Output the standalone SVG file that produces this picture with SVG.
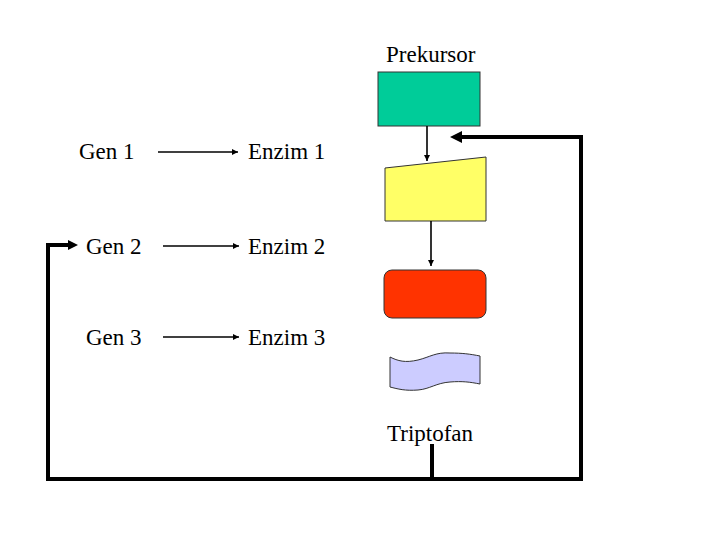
<svg xmlns="http://www.w3.org/2000/svg" width="720" height="540" viewBox="0 0 720 540">
<style>
text{font-family:"Times New Roman","Liberation Serif","DejaVu Serif",serif;font-size:23px;fill:#000}
.thin{stroke:#000;stroke-width:1.6;fill:none}
.thick{stroke:#000;stroke-width:4;fill:none;stroke-linejoin:miter}
.shape{stroke:#333;stroke-width:1}
</style>
<defs>
<marker id="a" viewBox="0 0 10 10" refX="10" refY="5" markerWidth="6" markerHeight="6" markerUnits="userSpaceOnUse" orient="auto"><path d="M0,0L10,5L0,10z" fill="#000"/></marker>
</defs>
<rect width="720" height="540" fill="#fff"/>
<g font-family="Times New Roman, Liberation Serif, DejaVu Serif, serif">
<g id="gen1"><text x="79" y="159">Gen 1</text></g>
<g id="gen2"><text x="86" y="254">Gen 2</text></g>
<g id="gen3"><text x="86" y="345">Gen 3</text></g>
<g id="enzim1"><text x="248" y="159">Enzim 1</text></g>
<g id="enzim2"><text x="248" y="254">Enzim 2</text></g>
<g id="enzim3"><text x="248" y="345">Enzim 3</text></g>
<g id="prekursor"><text x="386" y="62">Prekursor</text><rect class="shape" x="378" y="72" width="102" height="54" fill="#00CC99"/></g>
<g id="e1shape"><polygon class="shape" points="385,168 486,157 486,221 385,221" fill="#FFFF66"/></g>
<g id="e2shape"><rect class="shape" x="384" y="270" width="102" height="48" rx="8" fill="#FF3300"/></g>
<g id="e3shape"><path class="shape" d="M390,357 C398,361 405,363 418,360 C430,357 436,352 450,353 C462,353 470,354 480,356 L480,384 C470,382 462,381 450,382 C436,383 430,389 418,390 C405,391 398,389 390,387 Z" fill="#CCCCFF"/></g>
<g id="triptofan"><text x="387" y="441">Triptofan</text></g>
</g>
<g id="connectors">
<line class="thin" x1="158" y1="152" x2="238" y2="152" marker-end="url(#a)"/>
<line class="thin" x1="163" y1="246" x2="239" y2="246" marker-end="url(#a)"/>
<line class="thin" x1="163" y1="337" x2="239" y2="337" marker-end="url(#a)"/>
<line class="thin" x1="427" y1="126" x2="427" y2="161" marker-end="url(#a)"/>
<line class="thin" x1="431" y1="221" x2="431" y2="266" marker-end="url(#a)"/>
<polyline class="thick" points="432,444 432,479"/>
<polyline class="thick" points="581,479 48,479 48,245 70,245"/>
<path d="M68,240L78,245L68,250z" fill="#000"/>
<polyline class="thick" points="432,479 581,479 581,137 460,137"/>
<path d="M462,131L450,137L462,143z" fill="#000"/>
</g>
</svg>
